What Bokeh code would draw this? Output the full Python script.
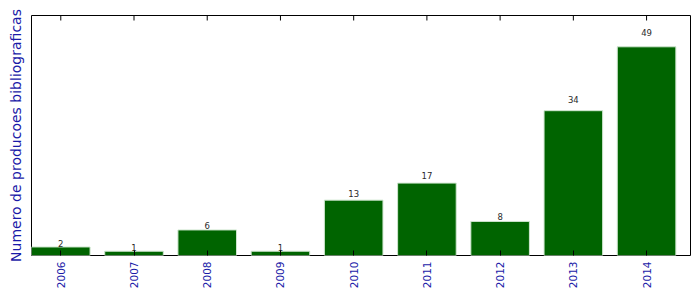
from bokeh.plotting import figure
from bokeh.models import ColumnDataSource, FixedTicker, LinearAxis, Range1d
from bokeh.core.properties import value
from bokeh.embed import file_html
from bokeh.resources import INLINE
import math

years = [2006, 2007, 2008, 2009, 2010, 2011, 2012, 2013, 2014]
year_labels = ["2006", "2007", "2008", "2009", "2010", "2011", "2012", "2013", "2014"]
counts = [2, 1, 6, 1, 13, 17, 8, 34, 49]

ymax = max(counts) * 1.15
label_pos = [c * 1.05 for c in counts]
src = ColumnDataSource(dict(x=years, top=counts, ly=label_pos, txt=[str(c) for c in counts],
                            ytop=[ymax] * len(years)))

p = figure(width=699, height=297, output_backend="svg", toolbar_location=None,
           x_range=Range1d(years[0] - 0.4, years[-1] + 0.6),
           y_range=Range1d(0, ymax),
           min_border_left=31, min_border_right=9, min_border_top=15, min_border_bottom=42,
           x_axis_location=None, y_axis_location=None)
p.background_fill_color = "white"
p.border_fill_color = "white"
p.outline_line_color = "black"
p.outline_line_width = 1
p.grid.visible = False

p.vbar(x="x", top="top", width=0.8, bottom=0, source=src,
       fill_color="#006400", line_color="#cfe6cf", line_width=1)
p.text(x="x", y="ly", text="txt", source=src, text_align="center", text_baseline="bottom",
       text_font_size=value("8.5px"), text_color="#2a2a2a", text_font=value("DejaVu Sans"))
# top tick marks
p.ray(x="x", y="ytop", length=5, length_units="screen", angle=-math.pi / 2,
      source=src, line_color="black", line_width=1)

ticker = FixedTicker(ticks=years)
overrides = {y: l for y, l in zip(years, year_labels)}

xb = LinearAxis(ticker=ticker, major_label_overrides=overrides)
xb.major_label_orientation = math.pi / 2
xb.major_label_text_font_size = "10.5px"
xb.major_label_text_font = "DejaVu Sans"
xb.major_label_text_color = "#1a1aa8"
xb.major_label_standoff = 6
xb.major_tick_in = 5
xb.major_tick_out = 0
xb.major_tick_line_color = "black"
xb.minor_tick_line_color = None
xb.axis_line_color = None
p.add_layout(xb, "below")

yl = LinearAxis(axis_label="Numero de producoes bibliograficas", ticker=FixedTicker(ticks=[]))
yl.major_label_standoff = 0
yl.major_tick_line_color = None
yl.minor_tick_line_color = None
yl.axis_line_color = None
yl.axis_label_text_font_size = "14px"
yl.axis_label_text_font = "DejaVu Sans"
yl.axis_label_text_font_style = "normal"
yl.axis_label_text_color = "#1a1aa8"
yl.axis_label_standoff = 8
p.add_layout(yl, "left")

open("out.html", "w").write(file_html(p, INLINE))
